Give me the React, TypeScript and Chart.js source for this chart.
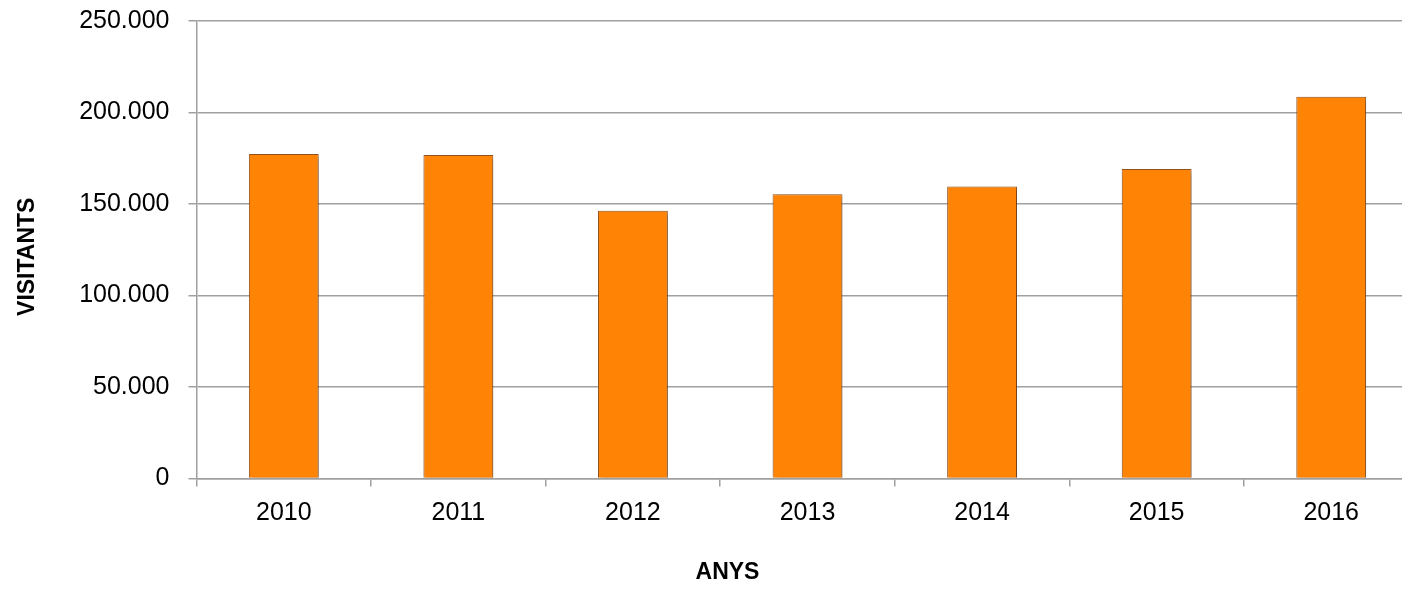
import React, { useEffect, useRef } from "react";
import { Chart, registerables } from "chart.js";

Chart.register(...registerables);

const years = ["2010", "2011", "2012", "2013", "2014", "2015", "2016"];
const visitants = [177300, 176800, 146300, 155300, 159500, 169100, 208600];
const yMax = 250000;
const yStep = 50000;
const xTitle = "ANYS";
const yTitle = "VISITANTS";

const FONT = '"Liberation Sans", Arial, sans-serif';

function fmt(v: number): string {
  const s = Math.round(v).toString();
  return s.replace(/\B(?=(\d{3})+(?!\d))/g, ".");
}

const titlesPlugin = {
  id: "axisTitles",
  afterDraw(chart: any) {
    const { ctx, chartArea } = chart;
    ctx.save();
    ctx.fillStyle = "#000";
    ctx.font = `bold 23px ${FONT}`;
    ctx.textAlign = "center";
    ctx.textBaseline = "middle";
    ctx.fillText(xTitle, chartArea.left + 531, chartArea.bottom + 94);
    ctx.translate(28, (chartArea.top + chartArea.bottom) / 2 + 7);
    ctx.rotate(-Math.PI / 2);
    ctx.fillText(yTitle, 0, 0);
    ctx.restore();
  },
};

const shadowPlugin = {
  id: "barShadow",
  beforeDatasetDraw(chart: any) {
    const ctx = chart.ctx;
    ctx.save();
    ctx.shadowColor = "rgba(0,0,0,0.35)";
    ctx.shadowBlur = 5;
    ctx.shadowOffsetX = 2;
    ctx.shadowOffsetY = 2;
  },
  afterDatasetDraw(chart: any) {
    chart.ctx.restore();
  },
};

export default function App() {
  const ref = useRef<HTMLCanvasElement | null>(null);
  useEffect(() => {
    if (!ref.current) return;
    const chart = new Chart(ref.current, {
      type: "bar",
      data: {
        labels: years,
        datasets: [
          {
            data: visitants,
            backgroundColor: "#FF8305",
            borderColor: "#9A5520",
            borderWidth: 1,
            barPercentage: 0.4,
            categoryPercentage: 1,
          },
        ],
      },
      options: {
        responsive: false,
        animation: false,
        devicePixelRatio: 1,
        layout: { padding: { top: 21, right: 1.5, bottom: 0, left: 0 } },
        plugins: {
          legend: { display: false },
          tooltip: { enabled: false },
          title: { display: false },
        },
        scales: {
          x: {
            grid: {
              display: true,
              drawOnChartArea: false,
              drawTicks: true,
              tickLength: 8,
              color: "#a0a0a0",
              lineWidth: 1.5,
              offset: true,
            },
            border: { display: true, color: "#a0a0a0", width: 1.5 },
            ticks: {
              color: "#000",
              font: { family: FONT, size: 25 },
              padding: 12,
            },
            afterFit(scale: any) {
              scale.height = 117.5;
              scale.paddingLeft = 0;
              scale.paddingRight = 0;
            },
          },
          y: {
            min: 0,
            max: yMax,
            grid: {
              color: "#a0a0a0",
              lineWidth: 1.5,
              tickLength: 8,
              drawTicks: true,
            },
            border: { display: true, color: "#a0a0a0", width: 1.5 },
            ticks: {
              stepSize: yStep,
              color: "#000",
              font: { family: FONT, size: 25 },
              padding: 19,
              callback: (v: any) => fmt(Number(v)),
            },
            afterFit(scale: any) {
              scale.width = 196.5;
              scale.paddingTop = 0;
              scale.paddingBottom = 0;
            },
          },
        },
      },
      plugins: [titlesPlugin, shadowPlugin],
    });
    return () => chart.destroy();
  }, []);

  return (
    <div
      style={{
        position: "absolute",
        left: 0,
        top: 0,
        width: 1402,
        height: 596,
        overflow: "hidden",
        background: "#fff",
      }}
    >
      <canvas ref={ref} width={1420} height={596} style={{ display: "block" }} />
    </div>
  );
}
